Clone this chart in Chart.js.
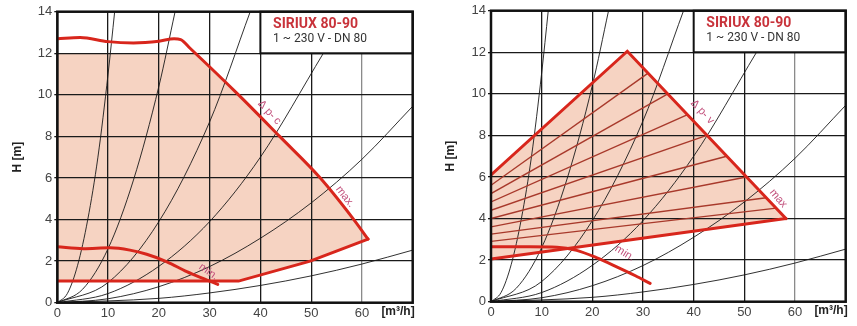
<!DOCTYPE html>
<html>
<head>
<meta charset="utf-8">
<script src="https://cdn.jsdelivr.net/npm/chart.js@4.4.1/dist/chart.umd.min.js"></script>
<style>
  html, body { margin: 0; padding: 0; background: #fff; }
  .panel { position: absolute; top: 0; height: 326px; }
</style>
</head>
<body>
<div class="panel" style="left:0;width:430px"><canvas id="leftChart"></canvas></div>
<div class="panel" style="left:430px;width:427px"><canvas id="rightChart"></canvas></div>
<script>
// axis ticks
const xTicks = [0, 10, 20, 30, 40, 50, 60];
const yTicks = [0, 2, 4, 6, 8, 10, 12, 14];

// system curves (black, same on both panels) [Q m3/h, H m]
const sys1 = [[0, 0], [2, 0.45], [4, 1.8], [6, 4.0], [8, 7.0], [10, 11.0], [11.3, 14]];
const sys2 = [[0, 0], [5, 0.65], [10, 2.6], [15, 5.9], [20, 10.4], [23.2, 14]];
const sys3 = [[0, 0], [10, 0.97], [20, 3.9], [30, 8.7], [38, 14]];
const sys4 = [[0, 0], [10, 0.44], [20, 1.75], [30, 3.9], [40, 7.0], [52.4, 12]];
const sys5 = [[0, 0], [10, 0.19], [20, 0.77], [30, 1.74], [40, 3.1], [50, 4.8], [60, 6.9], [70, 9.45]];
const sys6 = [[0, 0], [20, 0.21], [30, 0.47], [40, 0.83], [50, 1.29], [60, 1.86], [70, 2.53]];

// left panel: constant pressure
const leftMaxC = [[0, 12.7], [4.5, 12.76], [10, 12.56], [15, 12.5], [20, 12.58], [23, 12.7], [24.3, 12.66],
  [26.2, 12.23], [35.7, 10], [43.8, 8], [51.8, 6], [58.4, 4], [61.2, 3.06]];
const leftLow = [[0, 1.04], [35.7, 1.04], [49.8, 2.0], [61.2, 3.06]];
const leftMin = [[0, 2.69], [5.1, 2.6], [10.4, 2.64], [14.3, 2.53], [17.6, 2.33], [21.6, 1.97],
  [25.5, 1.49], [29.5, 1.09], [31.6, 0.88]];
const leftArea = [[0, 12], [27.4, 12], [35.7, 10], [43.8, 8], [51.8, 6], [58.4, 4], [61.2, 3.06],
  [49.8, 2.0], [35.7, 1.04], [0, 1.04]];

// right panel: variable pressure
const rightTop = [[0, 6.1], [26.9, 12.05], [58.2, 4.0]];
const rightLow = [[0, 2.05], [58.2, 4.0]];
const rightMin = [[0, 2.64], [7.7, 2.64], [13, 2.62], [16.9, 2.47], [20.8, 2.12], [24.8, 1.68],
  [28.5, 1.25], [31.4, 0.88]];
const rightArea = [[0, 6.1], [26.9, 12.05], [58.2, 4.0], [0, 2.05]];
const rightSpeeds = [
  [[0, 5.6], [31.0, 11]],
  [[0, 5.2], [34.9, 10]],
  [[0, 4.8], [38.8, 9]],
  [[0, 4.4], [42.6, 8]],
  [[0, 4.0], [46.5, 7]],
  [[0, 3.6], [50.4, 6]],
  [[0, 3.25], [54.3, 5]],
  [[0, 2.9], [56.3, 4.5]],
];

const RED = "#d8261c";
const FILL = "#f6d3c2";
const FONT = '"Liberation Sans", Arial, sans-serif';

const pts = (a) => a.map(([x, y]) => ({ x: x, y: y }));

function redLine(data, smooth) {
  return {
    data: pts(data), showLine: true, pointRadius: 0, borderColor: RED, borderWidth: 3,
    cubicInterpolationMode: smooth ? "monotone" : "default", tension: 0, fill: false,
    borderCapStyle: "round", borderJoinStyle: "miter",
  };
}

function blackLine(data) {
  return {
    data: pts(data), showLine: true, pointRadius: 0, borderColor: "#1a1a1a", borderWidth: 0.9,
    cubicInterpolationMode: "monotone", fill: false,
  };
}

function areaSet(data) {
  return {
    data: pts(data), showLine: true, pointRadius: 0, borderWidth: 0, borderColor: "rgba(0,0,0,0)",
    backgroundColor: FILL, fill: "shape", tension: 0,
  };
}

// frame, curve notes, type box and axis titles
const decor = {
  id: "decor",
  afterDatasetsDraw(chart, args, o) {
    const { ctx, chartArea: a, scales: { x, y } } = chart;
    ctx.save();

    ctx.fillStyle = "#c2507c";
    ctx.font = "11px " + FONT;
    ctx.textAlign = "center";
    ctx.textBaseline = "middle";
    o.notes.forEach((n) => {
      ctx.save();
      ctx.translate(x.getPixelForValue(n.q), y.getPixelForValue(n.h));
      ctx.rotate((n.angle * Math.PI) / 180);
      ctx.fillText(n.text, 0, 0);
      ctx.restore();
    });

    // type box top right
    const bx = x.getPixelForValue(40), by = a.top;
    const bw = a.right - bx, bh = y.getPixelForValue(12) - by;
    ctx.fillStyle = "#fff";
    ctx.fillRect(bx, by, bw, bh);
    ctx.strokeStyle = "#111";
    ctx.lineWidth = 2;
    ctx.strokeRect(bx, by, bw, bh);
    ctx.textAlign = "left";
    ctx.fillStyle = "#c8323a";
    ctx.font = "bold 14px Roboto, " + FONT;
    ctx.fillText("SIRIUX 80-90", x.getPixelForValue(42.5), by + 13);
    ctx.fillStyle = "#333";
    ctx.font = "12px Roboto, " + FONT;
    ctx.fillText("1 ~ 230 V - DN 80", x.getPixelForValue(42.5), by + 27);

    // frame
    ctx.strokeStyle = "#111";
    ctx.lineWidth = 2.5;
    ctx.strokeRect(a.left, a.top, a.width, a.height);

    // axis titles
    ctx.fillStyle = "#222";
    ctx.font = "bold 12px " + FONT;
    ctx.textAlign = "right";
    ctx.fillText("[m\u00b3/h]", a.right + 2, a.bottom + 9);
    ctx.save();
    ctx.translate(a.left - 40, (a.top + a.bottom) / 2);
    ctx.rotate(-Math.PI / 2);
    ctx.textAlign = "center";
    ctx.fillText("H [m]", 0, 0);
    ctx.restore();

    ctx.restore();
  },
};

function makeChart(id, datasets, pad, yWidth, xHeight, notes) {
  return new Chart(document.getElementById(id), {
    type: "scatter",
    data: { datasets: datasets },
    plugins: [decor],
    options: {
      responsive: true,
      maintainAspectRatio: false,
      animation: false,
      layout: { padding: pad },
      plugins: {
        legend: { display: false },
        tooltip: { enabled: false },
        filler: { drawTime: "beforeDraw" },
        decor: { notes: notes },
      },
      scales: {
        x: {
          type: "linear", min: 0, max: 70,
          afterBuildTicks: (s) => { s.ticks = xTicks.map((v) => ({ value: v })); },
          afterFit: (s) => { s.height = xHeight; },
          border: { display: false },
          grid: {
            color: (c) => (c.tick && c.tick.value === 60 ? "#8a8a8a" : "#1a1a1a"),
            lineWidth: 1.3, drawTicks: false,
          },
          ticks: { color: "#444", font: { family: FONT, size: 13 }, padding: 3, maxRotation: 0 },
        },
        y: {
          type: "linear", min: 0, max: 14,
          afterBuildTicks: (s) => { s.ticks = yTicks.map((v) => ({ value: v })); },
          afterFit: (s) => { s.width = yWidth; },
          border: { display: false },
          grid: { color: "#1a1a1a", lineWidth: 1.3, tickLength: 3 },
          ticks: { color: "#444", font: { family: FONT, size: 13 }, padding: 2 },
        },
      },
    },
  });
}

const sysSets = [sys1, sys2, sys3, sys4, sys5, sys6].map(blackLine);

makeChart(
  "leftChart",
  [redLine(leftMaxC, true), redLine(leftLow, false), redLine(leftMin, true)]
    .concat(sysSets)
    .concat([areaSet(leftArea)]),
  { left: 0, right: 17.3, top: 11.7, bottom: 0 }, 57.3, 23.3,
  [
    { text: "\u0394 p- c", q: 41.8, h: 9.15, angle: 47 },
    { text: "max.", q: 56.7, h: 5.1, angle: 52 },
    { text: "min.", q: 29.8, h: 1.49, angle: 35 },
  ]
);

const speedSets = rightSpeeds.map((s) => ({
  data: pts(s), showLine: true, pointRadius: 0, borderColor: "#a8392b", borderWidth: 1.4, fill: false,
}));

makeChart(
  "rightChart",
  [redLine(rightTop, false), redLine(rightLow, false), redLine(rightMin, true)]
    .concat(speedSets)
    .concat([blackLine(sys1), blackLine(sys2), blackLine(sys3), blackLine(sys4), blackLine(sys5), blackLine(sys6)])
    .concat([areaSet(rightArea)]),
  { left: 0, right: 11.3, top: 10.7, bottom: 0 }, 61, 24.3,
  [
    { text: "\u0394 p- v", q: 41.7, h: 9.13, angle: 47 },
    { text: "max", q: 56.7, h: 4.97, angle: 50 },
    { text: "min.", q: 26.4, h: 2.33, angle: 32 },
  ]
);
</script>
</body>
</html>
